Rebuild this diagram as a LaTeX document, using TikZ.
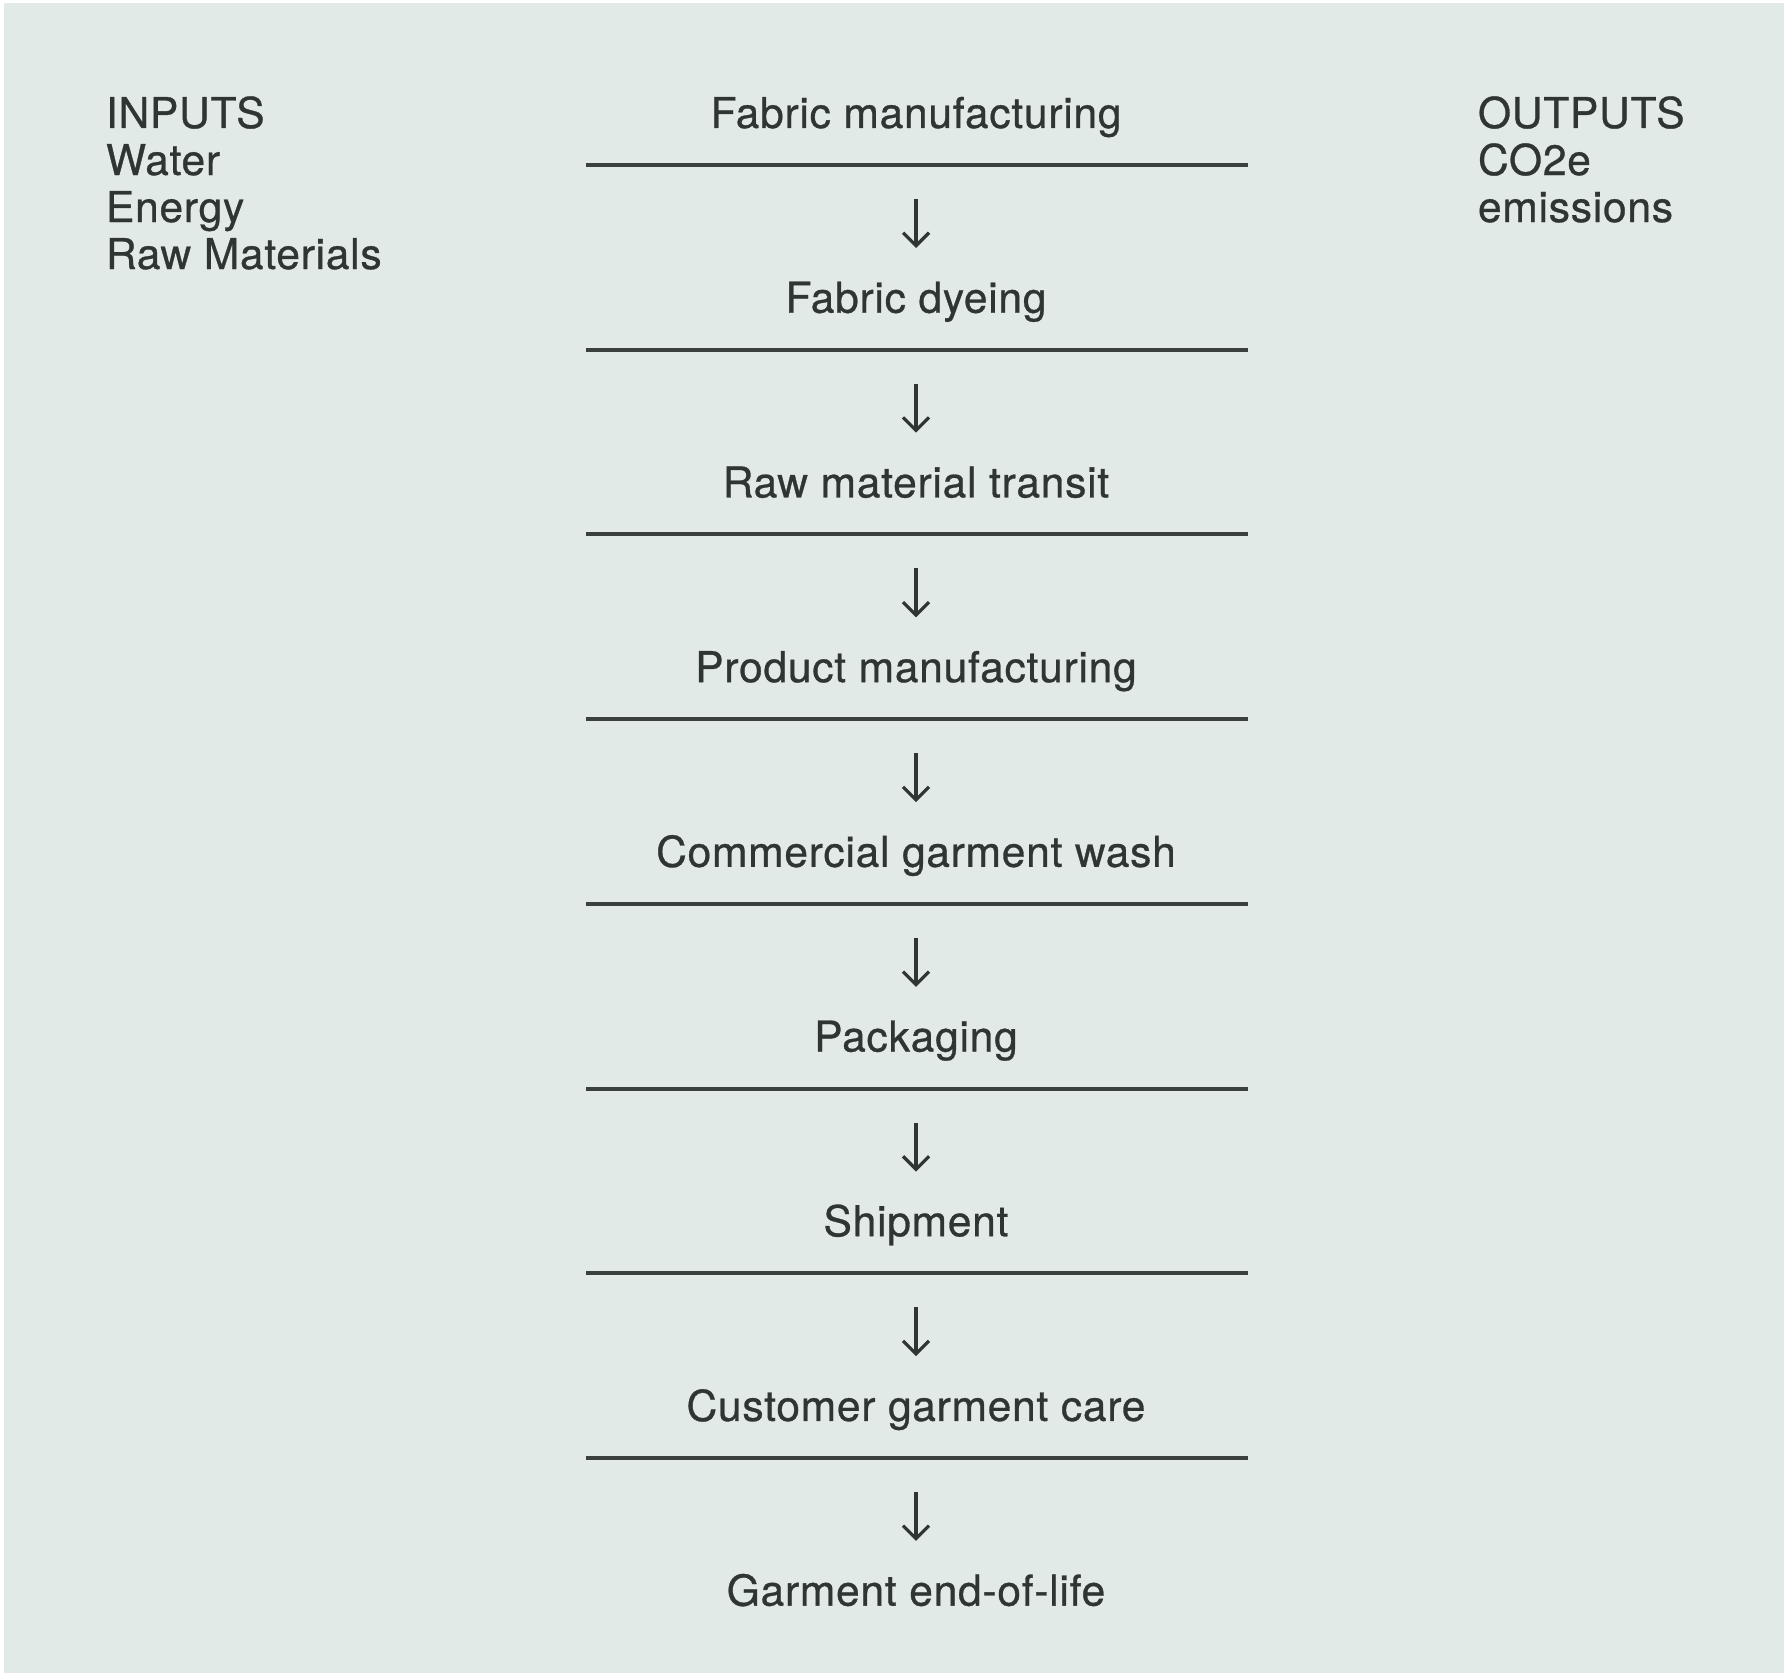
\documentclass[tikz,border=0pt]{standalone}
\usepackage{fontspec}
\setmainfont{TeX Gyre Heros}[LetterSpace=1.8,FakeBold=0.7]
\usetikzlibrary{arrows.meta}
\definecolor{bg}{HTML}{E1EAE6}
\definecolor{ink}{HTML}{2F3532}
\definecolor{rulec}{HTML}{3A403D}
\begin{document}
\begin{tikzpicture}[x=1pt,y=-1pt,
  lbl/.style={text=ink, font=\fontsize{42.5}{47}\selectfont, inner sep=0pt, outer sep=0pt},
  steplbl/.style={lbl, anchor=base},
  sidelbl/.style={lbl, anchor=base west},
  rulel/.style={draw=rulec, line width=4pt},
  flow/.style={draw=ink, line width=3.2pt, -{Straight Barb[length=13pt,width=26pt]}}]
\useasboundingbox (0,0) rectangle (1784,1675);
\fill[bg] (4,3) rectangle (1784,1673);
% inputs
\node[sidelbl] (in1) at (106,128) {INPUTS};
\node[sidelbl] (in2) at (106,175) {Water};
\node[sidelbl] (in3) at (106,222) {Energy};
\node[sidelbl] (in4) at (106,269) {Raw Materials};
% outputs
\node[sidelbl] (out1) at (1478,128) {OUTPUTS};
\node[sidelbl] (out2) at (1478,175) {CO2e};
\node[sidelbl] (out3) at (1478,222) {emissions};
% steps
\foreach \t [count=\i from 0] in {Fabric manufacturing, Fabric dyeing, Raw material transit, Product manufacturing, Commercial garment wash, Packaging, Shipment, Customer garment care, Garment end-of-life}{
  \node[steplbl] (s\i) at (916,{128+184.7*\i}) {\t};
}
\foreach \i in {0,...,7}{
  \pgfmathsetmacro\yb{128+184.7*\i}
  \coordinate (lw\i) at (586,\yb+37);
  \coordinate (le\i) at (1248,\yb+37);
  \draw[rulel] (lw\i) -- (le\i);
  \coordinate (at\i) at (916,\yb+71);
  \coordinate (ab\i) at (916,\yb+120);
  \draw[flow] (at\i) -- (ab\i);
}
\end{tikzpicture}
\end{document}
